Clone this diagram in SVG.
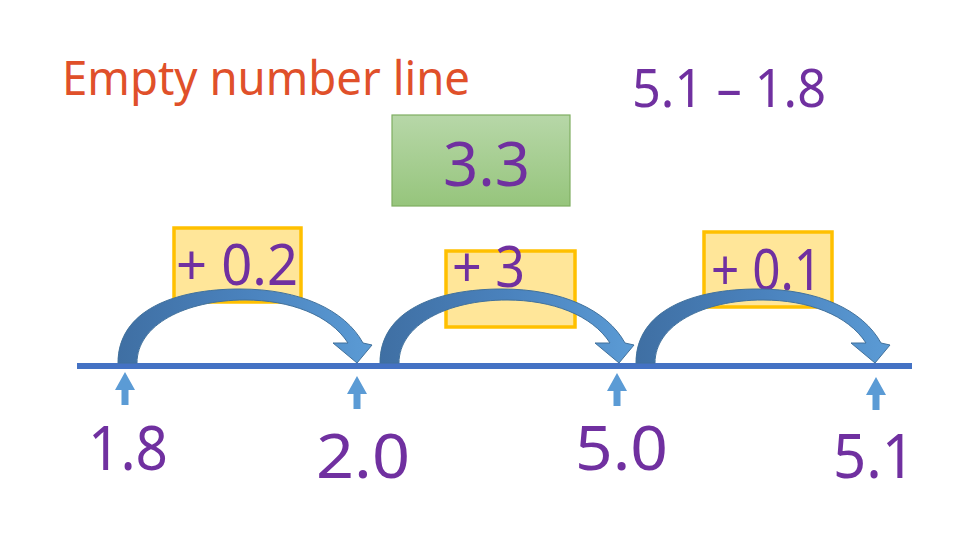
<svg xmlns="http://www.w3.org/2000/svg" width="960" height="540" viewBox="0 0 960 540">
<style>
.t{font-family:"Noto Sans","DejaVu Sans",sans-serif;fill:#7030A0}
.title{font-family:"Noto Sans","DejaVu Sans",sans-serif;fill:#E0502A}
.yb{fill:#FFE699;stroke:#FFC000;stroke-width:3.5}
.up{fill:#5B9BD5}
</style>
<defs>
<linearGradient id="arcg" x1="0" y1="0" x2="1" y2="0">
<stop offset="0" stop-color="#3F6FA3"/>
<stop offset="0.5" stop-color="#4A82BD"/>
<stop offset="1" stop-color="#5B9BD5"/>
</linearGradient>
<linearGradient id="gg" x1="0" y1="0" x2="0" y2="1">
<stop offset="0" stop-color="#B7D7A8"/>
<stop offset="1" stop-color="#96C57C"/>
</linearGradient>
<path id="arc" d="M0,0 C0,-53 57,-74 122,-74 C182,-74 227,-53 245,-20 L254,-18 L239,0 L215,-20 L230,-20 C212,-48 172,-63 127,-63 C67,-63 19,-38 19,0 Z" fill="url(#arcg)" stroke="#41719C" stroke-width="1"/>
<path id="upa" d="M0,0 L10,18 L3.5,18 L3.5,33 L-3.5,33 L-3.5,18 L-10,18 Z"/>
</defs>
<rect width="960" height="540" fill="#fff"/>
<g id="title"><text class="title" x="62" y="95" font-size="48" textLength="408" lengthAdjust="spacingAndGlyphs">Empty number line</text></g>
<g id="problem"><text class="t" x="632" y="107" font-size="52" textLength="194" lengthAdjust="spacingAndGlyphs">5.1 – 1.8</text></g>
<g id="answer"><rect x="392" y="115" width="178" height="91" fill="url(#gg)" stroke="#7FAE62" stroke-width="1.2"/><text class="t" x="443" y="186" font-size="62" textLength="87" lengthAdjust="spacingAndGlyphs">3.3</text></g>
<g id="step1"><rect class="yb" x="174" y="228" width="127" height="74"/><text class="t" x="176" y="285" font-size="56" textLength="122" lengthAdjust="spacingAndGlyphs">+ 0.2</text></g>
<g id="step2"><rect class="yb" x="446" y="251" width="129" height="76"/><text class="t" x="452" y="287" font-size="56" textLength="73" lengthAdjust="spacingAndGlyphs">+ 3</text></g>
<g id="step3"><rect class="yb" x="704" y="232" width="128" height="75"/><text class="t" x="711" y="290" font-size="56" textLength="111" lengthAdjust="spacingAndGlyphs">+ 0.1</text></g>
<g id="line"><rect x="77" y="363" width="835" height="6" fill="#4472C4"/></g>
<g id="connectors">
<use href="#arc" x="118" y="363"/>
<use href="#arc" x="380" y="363"/>
<use href="#arc" x="636" y="363"/>
</g>
<g id="p18"><use href="#upa" class="up" x="125" y="372"/><text class="t" x="88" y="470" font-size="62" textLength="80" lengthAdjust="spacingAndGlyphs">1.8</text></g>
<g id="p20"><use href="#upa" class="up" x="357" y="376"/><text class="t" x="316" y="478" font-size="62" textLength="94" lengthAdjust="spacingAndGlyphs">2.0</text></g>
<g id="p50"><use href="#upa" class="up" x="617" y="373"/><text class="t" x="575" y="470" font-size="62" textLength="93" lengthAdjust="spacingAndGlyphs">5.0</text></g>
<g id="p51"><use href="#upa" class="up" x="876" y="377"/><text class="t" x="833" y="478" font-size="62" textLength="82" lengthAdjust="spacingAndGlyphs">5.1</text></g>
</svg>
